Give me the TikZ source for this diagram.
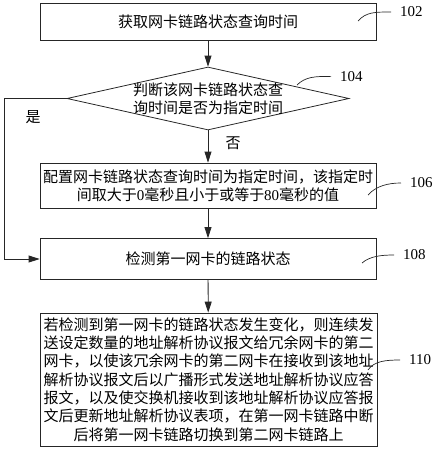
\documentclass[tikz,border=0pt]{standalone}
\usepackage{fontspec}
\setmainfont{Liberation Serif}
\newfontfamily\cjk{Noto Sans CJK SC}
\usetikzlibrary{shapes.geometric,arrows.meta}

\begin{document}
\begin{tikzpicture}[x=1pt,y=-1pt,
    box/.style={draw=black!85, line width=0.8pt, inner sep=0pt, align=center,
      font=\cjk\fontsize{15}{18.3}\selectfont},
    decision/.style={draw=black!85, diamond, line width=0.8pt, inner sep=0pt,
      minimum width=282pt, minimum height=63pt},
    flow/.style={draw=black!85, line width=0.8pt, -{Triangle[length=11pt,width=7pt]}},
    word/.style={font=\cjk\fontsize{15}{18}\selectfont, inner sep=0pt},
    tag/.style={font=\fontsize{15}{18}\selectfont, anchor=west, inner sep=0pt},
    squiggle/.style={draw=black!85, line width=0.7pt, shorten >=9pt}]
    \useasboundingbox (0,0) rectangle (436,450);

    \node[box, minimum width=336pt, minimum height=37pt] (get) at (208,21.5)
      {获取网卡链路状态查询时间};
    \node[decision] (judge) at (208,98.5) {};
    \node[word, align=center] (judgetext) at (judge.center)
      {判断该网卡链路状态查\\询时间是否为指定时间};
    \node[box, minimum width=336pt, minimum height=45pt] (config) at (208,185.5)
      {配置网卡链路状态查询时间为指定时间，该指定时\\间取大于{\rmfamily 0}毫秒且小于或等于{\rmfamily 80}毫秒的值};
    \node[box, minimum width=336pt, minimum height=41pt] (detect) at (208,259)
      {检测第一网卡的链路状态};
    \node[box, minimum width=337pt, minimum height=133pt] (switch) at (208.5,379.5)
      {若检测到第一网卡的链路状态发生变化，则连续发\\
       送设定数量的地址解析协议报文给冗余网卡的第二\\
       网卡，以使该冗余网卡的第二网卡在接收到该地址\\
       解析协议报文后以广播形式发送地址解析协议应答\\
       报文，以及使交换机接收到该地址解析协议应答报\\
       文后更新地址解析协议表项，在第一网卡链路中断\\
       后将第一网卡链路切换到第二网卡链路上};

    \node[word] (yes) at (33,117) {是};
    \node[word] (no) at (233,143) {否};
    \coordinate (yesturn) at (4,98.5);

    \draw[flow] (get) -- (judge);
    \draw[flow] (judge) -- (config);
    \draw[flow] (config) -- (detect);
    \draw[flow] (detect) -- (switch);
    \draw[flow] (judge.west) -- (yesturn) |- (detect.west);

    \node[tag] (n102) at (400,12) {102};
    \node[tag] (n104) at (340,77) {104};
    \node[tag] (n106) at (410,183) {106};
    \node[tag] (n108) at (403,255) {108};
    \node[tag] (n110) at (409,360) {110};
    \coordinate (c102) at (358,21);
    \coordinate (c104) at (297,85);
    \coordinate (c106) at (368,195);
    \coordinate (c108) at (362,263);
    \coordinate (c110) at (368,370);
    \draw[squiggle] (c102) .. controls (366,12) and (375,12) .. (n102.west);
    \draw[squiggle] (c104) .. controls (305,77) and (315,76) .. (n104.west);
    \draw[squiggle] (c106) .. controls (376,186) and (388,183) .. (n106.west);
    \draw[squiggle] (c108) .. controls (370,256) and (382,255) .. (n108.west);
    \draw[squiggle] (c110) .. controls (374,361) and (386,360) .. (n110.west);
\end{tikzpicture}
\end{document}
